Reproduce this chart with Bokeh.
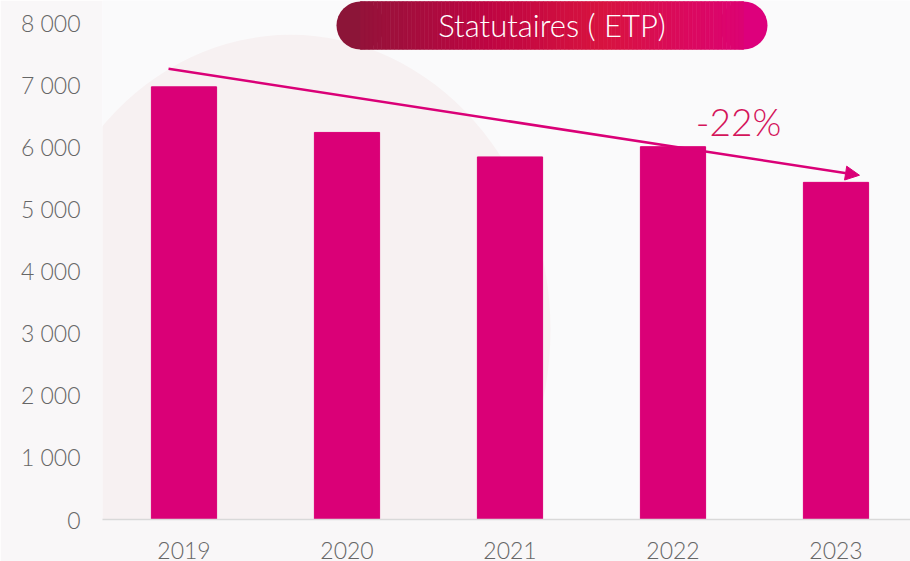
from bokeh.plotting import figure
from bokeh.models import Range1d, FixedTicker, Arrow, NormalHead
from bokeh.embed import file_html
from bokeh.resources import INLINE
from bokeh.core.properties import value

# ---- data ----
years = [2019, 2020, 2021, 2022, 2023]
etp = [6975, 6240, 5845, 6010, 5435]
y_ticks = [0, 1000, 2000, 3000, 4000, 5000, 6000, 7000, 8000]
y_tick_labels = ["0", "1 000", "2 000", "3 000", "4 000", "5 000", "6 000", "7 000", "8 000"]
title_text = "Statutaires ( ETP)"

# ---- layout constants ----
W, H = 910, 561
FL = 102         # frame left (px)
FB = 520         # frame bottom (px from top)
X0 = 2018.5
PX_PER_YEAR = 163
SCALE = 0.06215  # px per unit
Y_END = FB / SCALE
BAR = "#DA0077"
FONT = "Lato Light"


def dx(px):
    return X0 + (px - FL) / PX_PER_YEAR


def dy(py):
    return (FB - py) / SCALE


p = figure(width=W, height=H, output_backend="svg", toolbar_location=None,
           x_range=Range1d(X0, X0 + (W - FL) / PX_PER_YEAR),
           y_range=Range1d(0, Y_END),
           min_border_left=FL, min_border_right=0, min_border_top=0,
           min_border_bottom=H - FB)
p.background_fill_color = "#FAFAFB"
p.border_fill_color = "#F9F7F8"
p.outline_line_color = None
p.grid.visible = False

# faint background shape
p.ellipse(x=[dx(290)], y=[dy(330)], width=520, height=590,
          width_units="screen", height_units="screen",
          fill_color="#F7F1F2", line_color=None, level="underlay")

# bars
p.vbar(x=years, top=etp, width=0.4, fill_color=BAR, line_color=BAR)

# trend arrow
p.add_layout(Arrow(end=NormalHead(size=14, fill_color=BAR, line_color=BAR),
                   x_start=years[0] - 0.095, y_start=etp[0] + 290,
                   x_end=years[-1] + 0.144, y_end=etp[-1] + 115,
                   line_color=BAR, line_width=2.5))

pct = round((etp[-1] / etp[0] - 1) * 100)
p.text(x=[dx(738)], y=[dy(121)], text=[f"{pct}%"], text_font=value(FONT),
       text_font_size="37px", text_color="#D4145A", text_align="center",
       text_baseline="middle")

# title pill with gradient
stops = [(0.0, (0x8C, 0x15, 0x38)), (0.35, (0xBE, 0x05, 0x42)),
         (0.62, (0xD8, 0x13, 0x3F)), (1.0, (0xDD, 0x00, 0x7C))]


def grad(t):
    for (t0, c0), (t1, c1) in zip(stops[:-1], stops[1:]):
        if t <= t1:
            f = (t - t0) / (t1 - t0)
            return "#%02x%02x%02x" % tuple(int(round(a + (b - a) * f)) for a, b in zip(c0, c1))
    return "#%02x%02x%02x" % stops[-1][1]


PL, PR, PT, PB = 336, 767, 1, 49
r = (PB - PT) / 2
n = 90
lefts, rights, cols = [], [], []
span = (PR - r) - (PL + r)
for i in range(n):
    a = PL + r + span * i / n
    b = PL + r + span * (i + 1) / n
    lefts.append(dx(a))
    rights.append(dx(b))
    cols.append(grad(((a + b) / 2 - PL) / (PR - PL)))
p.scatter(x=[dx(PL + r), dx(PR - r)], y=[dy(PT + r)] * 2, size=2 * r,
          fill_color=[grad(0.0), grad(1.0)], line_color=None)
p.quad(left=lefts, right=rights, top=dy(PT), bottom=dy(PB),
       fill_color=cols, line_color=cols, line_width=0.6)
p.text(x=[dx((PL + PR) / 2)], y=[dy(25)], text=[title_text], text_font=value(FONT),
       text_font_size="31px", text_color="white", text_align="center",
       text_baseline="middle")

# axes
p.xaxis.ticker = FixedTicker(ticks=years)
p.xaxis.major_label_overrides = {y: str(y) for y in years}
p.xaxis.axis_line_color = "#D9D9D9"
p.xaxis.axis_line_width = 1.5
p.xaxis.major_tick_line_color = None
p.xaxis.minor_tick_line_color = None
p.xaxis.major_tick_out = 0
p.xaxis.major_label_standoff = 22
p.xaxis.major_label_text_line_height = 0.6
p.xaxis.major_label_text_font = FONT
p.xaxis.major_label_text_font_size = "23px"
p.xaxis.major_label_text_color = "#666666"

p.yaxis.ticker = FixedTicker(ticks=y_ticks)
p.yaxis.major_label_overrides = dict(zip(y_ticks, y_tick_labels))
p.yaxis.axis_line_color = None
p.yaxis.major_tick_line_color = None
p.yaxis.minor_tick_line_color = None
p.yaxis.major_tick_out = 0
p.yaxis.major_label_standoff = 22
p.yaxis.major_label_text_font = FONT
p.yaxis.major_label_text_font_size = "23px"
p.yaxis.major_label_text_color = "#666666"

open("out.html", "w").write(file_html(p, INLINE))
